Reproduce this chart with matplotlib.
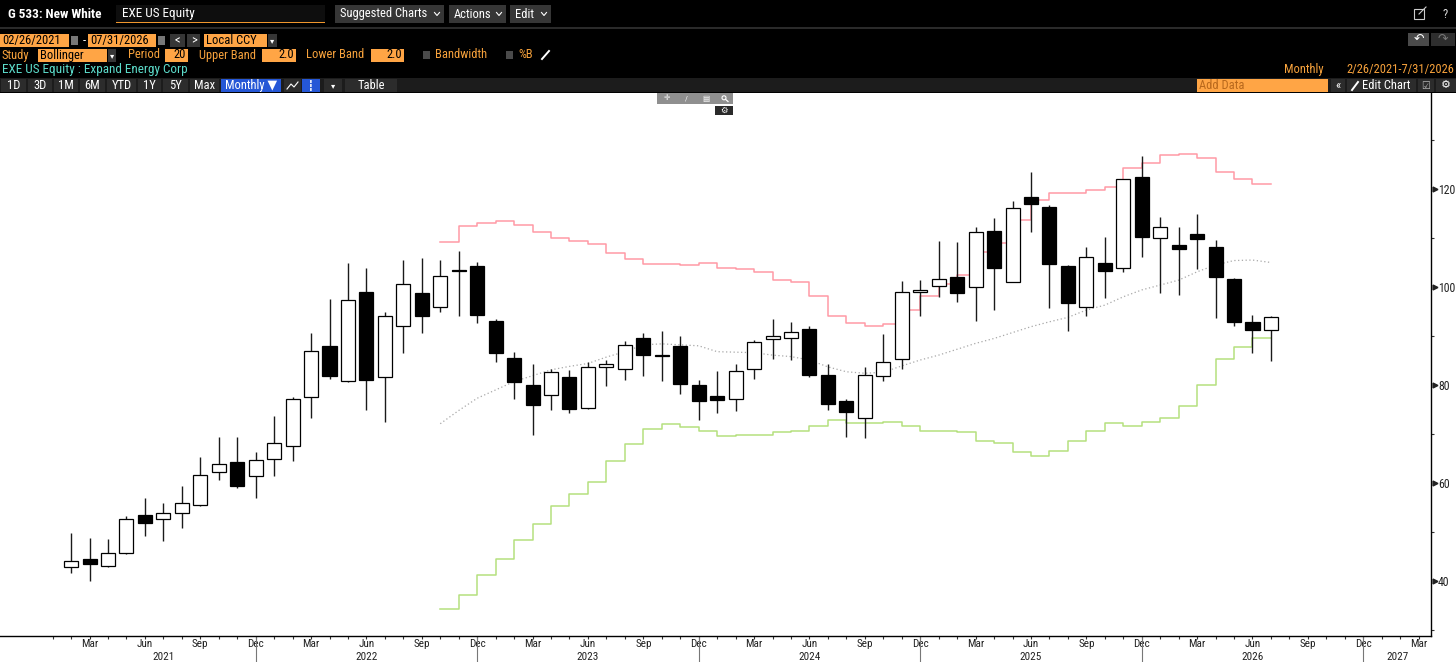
import matplotlib
matplotlib.use("Agg")
import matplotlib.pyplot as plt
from matplotlib import font_manager
from matplotlib.patches import Rectangle, Circle
from matplotlib.transforms import blended_transform_factory

# monthly candles for EXE US Equity, Feb 2021 .. Jul 2026
first_year, first_month = 2021, 2
opens = [42.9, 44.4, 43.0, 45.8, 53.5, 52.7, 53.9, 55.6, 62.2, 64.2, 61.4,
         64.8, 67.6, 77.5, 88.0, 80.8, 99.0, 81.6, 92.0, 98.8, 96.0, 103.4, 104.2,
         93.1, 85.6, 80.1, 77.9, 81.6, 75.4, 83.6, 83.3, 89.5, 86.1, 88.0, 80.0,
         77.8, 77.1, 83.2, 89.3, 89.6, 91.5, 82.1, 76.7, 73.2, 81.8, 85.4, 98.9,
         100.3, 102.0, 99.9, 111.4, 101.1, 118.3, 116.4, 104.2, 96.0, 105.0, 103.8, 122.4,
         109.9, 108.5, 110.8, 108.2, 101.6, 92.9, 91.3]
highs = [49.9, 48.7, 48.6, 53.3, 57.0, 55.9, 59.3, 65.3, 69.4, 69.4, 66.3,
         73.6, 77.6, 90.7, 97.6, 105.0, 103.9, 94.8, 105.5, 105.9, 105.5, 107.4, 105.2,
         93.5, 86.8, 84.2, 83.2, 83.1, 84.6, 85.1, 89.0, 90.6, 91.0, 90.0, 81.0,
         82.9, 84.3, 89.2, 93.5, 92.9, 92.1, 84.3, 77.1, 83.7, 90.4, 101.3, 101.4,
         109.4, 109.1, 112.2, 114.0, 117.6, 123.4, 116.7, 104.4, 108.2, 110.3, 122.0, 126.7,
         114.2, 112.3, 114.8, 109.6, 101.8, 94.3, 94.1]
lows = [41.6, 40.1, 42.9, 45.5, 49.2, 48.2, 50.8, 55.4, 60.6, 59.0, 56.9,
        61.5, 64.5, 73.3, 81.3, 80.6, 75.0, 72.5, 86.6, 90.7, 94.8, 94.1, 92.6,
        84.6, 77.2, 69.7, 75.0, 74.3, 75.2, 79.7, 81.0, 81.9, 80.8, 78.2, 72.9,
        74.2, 74.7, 81.3, 85.4, 85.2, 81.7, 75.0, 69.4, 69.1, 80.9, 83.2, 94.1,
        98.0, 97.0, 93.1, 95.4, 101.1, 111.3, 95.7, 91.1, 94.1, 97.7, 103.1, 106.1,
        98.7, 98.4, 103.7, 93.7, 92.0, 86.5, 85.0]
closes = [44.1, 43.4, 45.7, 52.7, 51.9, 53.9, 55.9, 61.6, 63.8, 59.4, 64.6,
          68.1, 77.1, 86.9, 81.9, 97.3, 81.0, 94.1, 100.6, 94.1, 102.2, 103.3, 94.2,
          86.6, 80.6, 76.0, 82.6, 75.2, 83.7, 84.3, 88.2, 86.1, 86.0, 80.3, 76.8,
          76.9, 82.8, 88.8, 89.9, 90.8, 82.0, 76.2, 74.4, 82.1, 84.6, 98.9, 99.4,
          101.6, 98.7, 111.2, 103.9, 116.1, 116.9, 104.6, 96.7, 106.2, 103.3, 122.0, 110.3,
          112.3, 107.8, 109.7, 102.0, 92.8, 91.2, 93.9]

# Bollinger (20, 2.0), first value on the Oct 2022 candle
band_start = 20
upper_band = [109.2, 112.4, 113.1,
              113.4, 112.6, 111.2, 110.1, 109.3, 108.8, 107.0, 105.8, 104.7, 104.6, 104.5, 104.8,
              103.8, 103.7, 103.1, 101.4, 101.0, 98.2, 94.1, 92.6, 92.1, 92.4, 95.3, 98.2,
              100.6, 102.4, 107.1, 109.0, 113.7, 117.8, 119.1, 119.1, 119.8, 120.4, 124.2, 125.4,
              126.9, 127.1, 126.3, 123.5, 122.1, 121.1, 121.1]
middle_band = [72.1, 74.8, 77.3,
               79.0, 80.7, 81.9, 83.1, 83.8, 84.4, 85.7, 86.8, 88.2, 88.4, 88.2, 88.0,
               86.8, 86.7, 86.6, 86.1, 85.8, 85.1, 83.7, 82.7, 82.4, 82.6, 83.9, 85.1,
               86.1, 87.3, 88.5, 89.5, 90.7, 91.9, 92.9, 93.8, 95.3, 96.3, 98.0, 99.4,
               100.4, 101.4, 103.1, 104.5, 105.4, 105.5, 105.0]
lower_band = [34.3, 37.1, 41.2,
              44.4, 48.3, 51.6, 55.4, 57.7, 60.3, 64.4, 67.9, 71.0, 72.0, 71.4, 70.6,
              69.5, 69.8, 69.8, 70.5, 70.6, 71.6, 72.8, 72.3, 72.3, 72.4, 71.7, 70.7,
              70.7, 70.5, 68.6, 68.1, 66.4, 65.5, 66.6, 68.6, 70.7, 72.3, 71.7, 72.4,
              73.2, 75.7, 79.9, 85.4, 87.8, 89.5, 89.5]

y_ticks = [40, 60, 80, 100, 120]
y_minor = [30, 50, 70, 90, 110, 130]
quarter_names = {3: "Mar", 6: "Jun", 9: "Sep", 12: "Dec"}

ORANGE = "#ffa545"
ORANGE_TXT = "#f7a23c"
CYAN = "#5cdccb"
BTN = "#363636"

names = {f.name for f in font_manager.fontManager.ttflist}
FONT = "Liberation Sans"
for cand in ["Liberation Sans Narrow", "Roboto Condensed", "Open Sans Condensed"]:
    if cand in names:
        FONT = cand
        break
FAMILY = [FONT, "DejaVu Sans"]

W, H = 1456, 662
fig = plt.figure(figsize=(W / 100, H / 100), dpi=100)
fig.patch.set_facecolor("white")

# ---- chart area
ax = fig.add_axes([0, (H - 636) / H, 1431 / W, (636 - 93) / H])
ax.set_facecolor("white")

x = list(range(len(opens)))
for i in x:
    o, h, l, c = opens[i], highs[i], lows[i], closes[i]
    ax.vlines(i, l, h, color="#1a1a1a", linewidth=1.0, zorder=2)
    up = c >= o
    ax.bar(i, abs(c - o), bottom=min(o, c), width=0.76,
           facecolor="white" if up else "black", edgecolor="black",
           linewidth=0.9, zorder=3)

bx = list(range(band_start, band_start + len(upper_band)))
ax.plot(bx, upper_band, drawstyle="steps-post", color="#ff9aa6", linewidth=1.1, zorder=1)
ax.plot(bx, lower_band, drawstyle="steps-post", color="#b5e07e", linewidth=1.1, zorder=1)
ax.plot(bx, middle_band, color="#a8a8a8", linewidth=0.9, linestyle=(0, (1, 2)), zorder=1)

ax.set_xlim(-3.85, 73.67)
ax.set_ylim(28.78, 139.59)

for side in ["top", "left"]:
    ax.spines[side].set_visible(False)
ax.spines["right"].set_color("black")
ax.spines["bottom"].set_color("black")
ax.spines["right"].set_linewidth(1.0)
ax.spines["bottom"].set_linewidth(1.0)

ax.yaxis.tick_right()
ax.set_yticks(y_ticks)
ax.set_yticklabels([str(v) for v in y_ticks], family=FAMILY, fontsize=8.5, color="#222222")
ax.set_yticks(y_minor, minor=True)
ax.tick_params(axis="y", which="major", length=0, pad=5)
ax.tick_params(axis="y", which="minor", length=2, width=0.8, color="#333333")
tr_y = blended_transform_factory(ax.transAxes, ax.transData)
ax.plot([1.0025] * len(y_ticks), y_ticks, linestyle="none", marker=">", markersize=3.5,
        color="#222222", transform=tr_y, clip_on=False)

# month ticks, quarter labels, year separators
month_idx = list(range(-1, 74))
quarter_pos, quarter_lab, dec_pos = [], [], []
for k in month_idx:
    m = (first_month - 1 + k) % 12 + 1
    if m in quarter_names:
        quarter_pos.append(k)
        quarter_lab.append(quarter_names[m])
    if m == 12:
        dec_pos.append(k)
ax.set_xticks(quarter_pos)
ax.set_xticklabels(quarter_lab, family=FAMILY, fontsize=8, color="#222222")
ax.set_xticks(month_idx, minor=True)
ax.tick_params(axis="x", which="both", length=2, width=0.8, color="#333333", pad=0.5)

tr_x = blended_transform_factory(ax.transData, ax.transAxes)
ax_h = 636 - 93
ax.vlines(dec_pos, -26 / ax_h, 0, color="#777777", linewidth=0.8,
          transform=tr_x, clip_on=False)
edges = [0] + dec_pos + [73.67]
for j in range(len(edges) - 1):
    ax.text((edges[j] + edges[j + 1]) / 2, -20.5 / ax_h, str(first_year + j),
            transform=tr_x, ha="center", va="center", fontsize=8,
            family=FAMILY, color="#222222")

# ---- terminal header (pixel coordinates)
hdr = fig.add_axes([0, 0, 1, 1], zorder=5)
hdr.set_xlim(0, W)
hdr.set_ylim(H, 0)
hdr.axis("off")
hdr.patch.set_alpha(0)


def box(x0, y0, x1, y1, color):
    hdr.add_patch(Rectangle((x0, y0), x1 - x0, y1 - y0, facecolor=color,
                            edgecolor="none"))


def txt(xp, yp, s, color, size=9, ha="left", **kw):
    hdr.text(xp, yp, s, color=color, fontsize=size, ha=ha, va="center",
             family=FAMILY, **kw)


def chevron(xc, yc, color="white"):
    hdr.plot([xc - 2.5, xc, xc + 2.5], [yc - 1.5, yc + 1.5, yc - 1.5], color=color,
             linewidth=0.8)


box(0, 0, W, 93, "black")

# row 1
txt(8, 14, "G 533: New White", "white", size=9.5, weight="bold")
box(116, 5, 325, 23, "#0e0e0e")
box(116, 21.5, 325, 23, "#f0962c")
txt(122, 13.5, "EXE US Equity", "white", size=9.5)
for x0, x1, label in [(335, 444, "Suggested Charts"), (449, 506, "Actions"), (510, 551, "Edit")]:
    box(x0, 5, x1, 23, BTN)
    txt(x0 + 5, 14, label, "white")
    chevron(x1 - 7, 14)
hdr.add_patch(Rectangle((1414, 9), 10, 10, facecolor="none", edgecolor="#cccccc", linewidth=0.8))
hdr.plot([1419, 1426], [14, 7], color="#cccccc", linewidth=0.8)
txt(1445, 14, "?", "#dddddd", ha="center")
box(0, 27, W, 29, "#2a2a2a")

# row 2
box(0, 34, 69, 47, ORANGE)
txt(2, 40.5, "02/26/2021", "black")
box(71, 36, 78, 45, "#777777")
txt(83, 40.5, "-", "white")
box(88, 34, 156, 47, ORANGE)
txt(90, 40.5, "07/31/2026", "black")
box(158, 36, 165, 45, "#777777")
box(170, 34, 185, 47, BTN)
txt(177.5, 40.5, "<", "white", ha="center")
box(187, 34, 200, 47, BTN)
txt(193.5, 40.5, ">", "white", ha="center")
box(204, 34, 267, 47, ORANGE)
txt(206, 40.5, "Local CCY", "black")
box(268, 34, 277, 47, BTN)
txt(272.5, 41, "\u25be", "white", size=6, ha="center")
box(1408, 33, 1429, 46, "#4a4a4a")
txt(1418.5, 39.5, "\u21b6", "white", ha="center")
box(1431, 33, 1455, 46, "#2e2e2e")
txt(1443, 39.5, "\u21b7", "#777777", ha="center")

# row 3
txt(2, 55, "Study", ORANGE_TXT)
box(38, 49, 107, 62, ORANGE)
txt(40, 55, "Bollinger", "black")
box(108, 49, 116, 62, BTN)
txt(112, 56, "\u25be", "white", size=6, ha="center")
txt(128, 55, "Period", ORANGE_TXT)
box(165, 49, 188, 62, ORANGE)
txt(186, 55, "20", "black", ha="right")
txt(199, 55, "Upper Band", ORANGE_TXT)
box(262, 49, 296, 62, ORANGE)
txt(294, 55, "2.0", "black", ha="right")
txt(306, 55, "Lower Band", ORANGE_TXT)
box(371, 49, 404, 62, ORANGE)
txt(402, 55, "2.0", "black", ha="right")
box(423, 51, 430, 59, "#4a4a4a")
txt(435, 55, "Bandwidth", ORANGE_TXT)
box(506, 51, 513, 59, "#4a4a4a")
txt(518, 55, "%B", ORANGE_TXT)
hdr.plot([542, 549], [59, 51], color="white", linewidth=1.4)

# row 4
txt(2, 70, "EXE US Equity : Expand Energy Corp", CYAN, size=9.5)
txt(1324, 70, "Monthly", ORANGE_TXT, ha="right")
txt(1454, 70, "2/26/2021-7/31/2026", ORANGE_TXT, ha="right")

# row 5 toolbar
box(0, 78, W, 92, "#1c1c1c")
for x0, x1, label in [(1, 26, "1D"), (28, 52, "3D"), (54, 78, "1M"), (80, 105, "6M"),
                      (107, 136, "YTD"), (138, 161, "1Y"), (163, 188, "5Y"),
                      (190, 219, "Max"), (345, 397, "Table")]:
    box(x0, 79, x1, 92, "#2c2c2c")
    txt((x0 + x1) / 2, 85.5, label, "white", ha="center")
box(221, 79, 281, 92, "#2557d6")
txt(225, 85.5, "Monthly \u25bc", "white")
box(284, 79, 301, 92, "#2c2c2c")
hdr.plot([287, 291, 294, 298], [89, 84, 87, 82], color="white", linewidth=0.8)
box(302, 79, 320, 92, "#2557d6")
txt(311, 85.5, "\u2507", "white", size=7, ha="center")
box(324, 79, 342, 92, "#2c2c2c")
txt(333, 86, "\u25be", "white", size=6, ha="center")
box(1197, 79, 1328, 92, ORANGE)
txt(1199, 85.5, "Add Data", "#b8681c")
box(1331, 79, 1345, 92, "#2c2c2c")
txt(1338, 85.5, "\u00ab", "white", ha="center")
box(1347, 79, 1416, 92, "#2c2c2c")
hdr.plot([1352, 1358], [90, 82], color="white", linewidth=1.4)
txt(1362, 85.5, "Edit Chart", "white")
box(1418, 79, 1434, 92, "#2c2c2c")
txt(1426, 85.5, "\u2611", "#bbbbbb", size=7, ha="center")
box(1436, 79, 1456, 92, "#2c2c2c")
txt(1446, 85.5, "\u2699", "white", size=8, ha="center")

# floating chart toolbar
box(657, 93, 733, 104, "#8f8f8f")
for xc, sym in [(667, "\u271b"), (686, "/"), (706, "\u25a4")]:
    txt(xc, 98.5, sym, "white", size=5.5, ha="center")
hdr.add_patch(Circle((724, 97.8), 2.0, facecolor="none", edgecolor="white", linewidth=0.8))
hdr.plot([725.5, 728], [99.3, 101.5], color="white", linewidth=0.9)
box(715, 106, 733, 115, "#2a2a2a")
txt(724, 110.5, "\u2699", "white", size=6, ha="center")

fig.savefig("out.png", dpi=100, facecolor=fig.get_facecolor())
